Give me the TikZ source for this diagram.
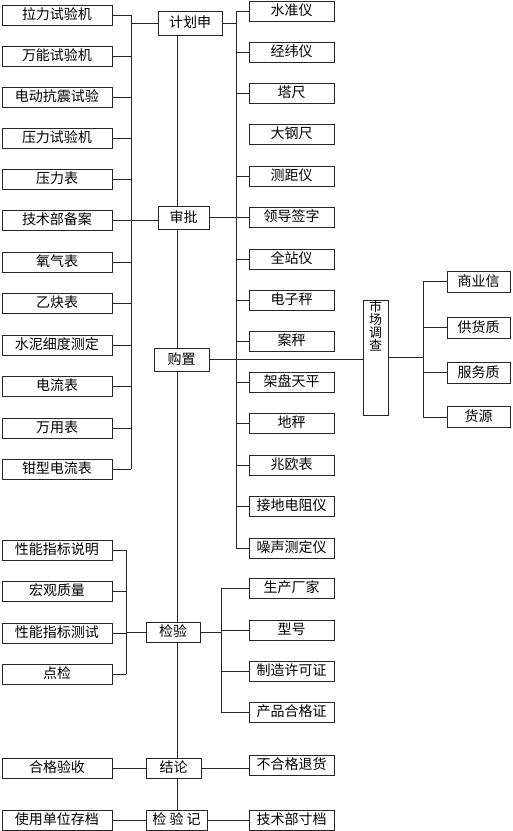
\documentclass[tikz,border=0pt]{standalone}
\usepackage{fontspec}
\setmainfont{Noto Sans CJK SC}
\begin{document}
\begin{tikzpicture}[x=1pt,y=-1pt,
  bx/.style={draw=black!85, line width=1pt, inner sep=0pt, minimum height=20pt, fill=white,
    text height=9.5pt, text depth=0pt, font=\fontsize{14}{14}\selectfont},
  lb/.style={draw=black!85, line width=0.8pt}]
\useasboundingbox (0,0) rectangle (513,831);
% bus coordinates
\coordinate (lbus) at (131,0);
\coordinate (tr) at (177,0);
\coordinate (rbus) at (236,0);
\coordinate (mbus) at (423,0);
\coordinate (kl) at (126,0);
\coordinate (kr) at (221,0);
% left column
\foreach \n/\y/\t in {l1/15/拉力试验机, l2/56/万能试验机, l3/97/电动抗震试验, l4/138/压力试验机,
  l5/179/压力表, l6/220/技术部备案, l7/262/氧气表, l8/303/乙炔表, l9/345/水泥细度测定,
  l10/386/电流表, l11/428/万用表, l12/469/钳型电流表}
  \node[bx, minimum width=110pt] (\n) at (57,\y) {\t};
% center column
\node[bx, minimum width=64pt, minimum height=24pt] (jh) at (190,23) {计划申};
\node[bx, minimum width=51pt, minimum height=23pt] (sp) at (183.5,217.5) {审批};
\node[bx, minimum width=55pt, minimum height=23pt] (gz) at (181.5,359.5) {购置};
\node[bx, minimum width=54pt] (jy) at (173,632) {检验};
\node[bx, minimum width=55pt] (jl) at (173.5,768) {结论};
\node[bx, minimum width=61pt] (jj) at (176.5,820) {检 验 记};
% right column
\foreach \n/\y/\t in {r1/11/水准仪, r2/52/经纬仪, r3/93/塔尺, r4/134/大钢尺, r5/176/测距仪,
  r6/217/领导签字, r7/259/全站仪, r8/300/电子秤, r9/341/案秤, r10/382/架盘天平,
  r11/423/地秤, r12/465/兆欧表, r13/506/接地电阻仪, r14/548/噪声测定仪}
  \node[bx, minimum width=85pt] (\n) at (291.5,\y) {\t};
% market survey
\node[bx, minimum width=25pt, minimum height=115pt] (mkt) at (375.5,357.5) {};
\node[anchor=north, inner sep=1pt, align=center, font=\fontsize{13}{13}\selectfont] (mktt) at (mkt.north) {市\\场\\调\\查};
\foreach \n/\y/\t in {m1/281.5/商业信, m2/327.5/供货质, m3/372.5/服务质, m4/417/货源}
  \node[bx, minimum width=63pt, minimum height=21pt] (\n) at (478.5,\y) {\t};
% inspection left
\foreach \n/\y/\t in {k1/550/性能指标说明, k2/591/宏观质量, k3/633/性能指标测试, k4/674/点检}
  \node[bx, minimum width=110pt] (\n) at (57,\y) {\t};
% inspection right
\foreach \n/\y/\t in {p1/588/生产厂家, p2/630/型号, p3/671/制造许可证, p4/712/产品合格证}
  \node[bx, minimum width=85pt] (\n) at (291.5,\y) {\t};
% conclusion
\node[bx, minimum width=110pt] (hg) at (57,768) {合格验收};
\node[bx, minimum width=85pt] (bh) at (291.5,765) {不合格退货};
\node[bx, minimum width=110pt] (sy) at (57,820) {使用单位存档};
\node[bx, minimum width=85pt] (js) at (291.5,820) {技术部寸档};

% ---- connectors ----
\foreach \n in {l1,l2,l3,l4,l5,l7,l8,l9,l10,l11,l12}
  \draw[lb] (\n.east) -- (\n.east -| lbus);
\draw[lb] (l1.east -| lbus) -- (l12.east -| lbus);
\draw[lb] (jh.west) -- (jh.west -| lbus);
\draw[lb] (l6.east) -- (l6.east -| sp.west);
% trunk
\draw[lb] (jh.south -| tr) -- (sp.north -| tr);
\draw[lb] (sp.south -| tr) -- (gz.north -| tr);
\draw[lb] (gz.south -| tr) -- (jy.north -| tr);
\draw[lb] (jy.south -| tr) -- (jl.north -| tr);
\draw[lb] (jl.south -| tr) -- (jj.north -| tr);
% right bus
\foreach \n in {r1,r2,r3,r5,r7,r8,r9,r10,r11,r12,r13,r14}
  \draw[lb] (\n.west) -- (\n.west -| rbus);
\draw[lb] (r1.west -| rbus) -- (r14.west -| rbus);
\draw[lb] (jh.east) -- (jh.east -| rbus);
\draw[lb] (sp.east) -- (sp.east -| r6.west);
\draw[lb] (gz.east) -- (gz.east -| mkt.west);
% market bus
\foreach \n in {m1,m2,m3,m4}
  \draw[lb] (\n.west) -- (\n.west -| mbus);
\draw[lb] (m1.west -| mbus) -- (m4.west -| mbus);
\draw[lb] (mkt.east) -- (mkt.east -| mbus);
% inspection buses
\foreach \n in {k1,k2,k3,k4}
  \draw[lb] (\n.east) -- (\n.east -| kl);
\draw[lb] (k1.east -| kl) -- (k4.east -| kl);
\draw[lb] (jy.west) -- (jy.west -| kl);
\foreach \n in {p1,p2,p3,p4}
  \draw[lb] (\n.west) -- (\n.west -| kr);
\draw[lb] (p1.west -| kr) -- (p4.west -| kr);
\draw[lb] (jy.east) -- (jy.east -| kr);
% conclusion
\draw[lb] (hg.east) -- (hg.east -| jl.west);
\draw[lb] (jl.east) -- (jl.east -| bh.west);
\draw[lb] (sy.east) -- (sy.east -| jj.west);
\draw[lb] (jj.east) -- (jj.east -| js.west);
\end{tikzpicture}
\end{document}
